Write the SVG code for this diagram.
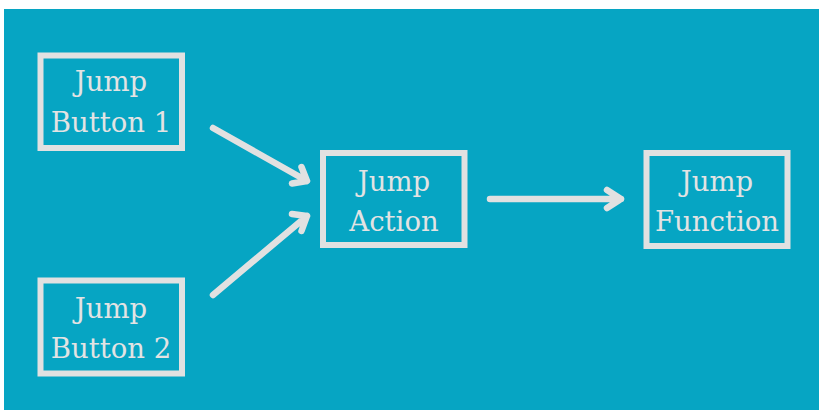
<svg xmlns="http://www.w3.org/2000/svg" width="819" height="410" viewBox="0 0 819 410">
<style>
.box{fill:none;stroke:#e1e1e1;stroke-width:6}
.lbl{font-family:"DejaVu Serif","Liberation Serif",serif;font-size:27.5px;fill:#e3e3e3;text-anchor:middle}
.edge{fill:none;stroke:#e1e1e1;stroke-width:6.5;stroke-linecap:round;stroke-linejoin:round}
</style>
<rect x="0" y="0" width="819" height="410" fill="#ffffff"/>
<rect x="4" y="9" width="815" height="401" fill="#06a5c3"/>
<g id="btn1">
<rect class="box" x="40.5" y="55.5" width="141.5" height="92.5"/>
<text class="lbl" x="111" y="91">Jump</text>
<text class="lbl" x="111" y="132">Button 1</text>
</g>
<g id="btn2">
<rect class="box" x="40.5" y="280.5" width="141.5" height="93"/>
<text class="lbl" x="111" y="318">Jump</text>
<text class="lbl" x="111" y="358">Button 2</text>
</g>
<g id="action">
<rect class="box" x="323" y="153" width="141.5" height="92"/>
<text class="lbl" x="394" y="191">Jump</text>
<text class="lbl" x="394" y="231">Action</text>
</g>
<g id="function">
<rect class="box" x="646.5" y="153" width="141" height="93"/>
<text class="lbl" x="717" y="191">Jump</text>
<text class="lbl" x="717" y="231">Function</text>
</g>
<g id="connectors">
<path class="edge" d="M213,128 L307,181 M301.5,167 L307,181 L292,183.5"/>
<path class="edge" d="M213,295 L307,216 M292,214 L307,216 L301.5,231"/>
<path class="edge" d="M490,199 L621,199 M607,190 L621,199 L607,208"/>
</g>
</svg>
